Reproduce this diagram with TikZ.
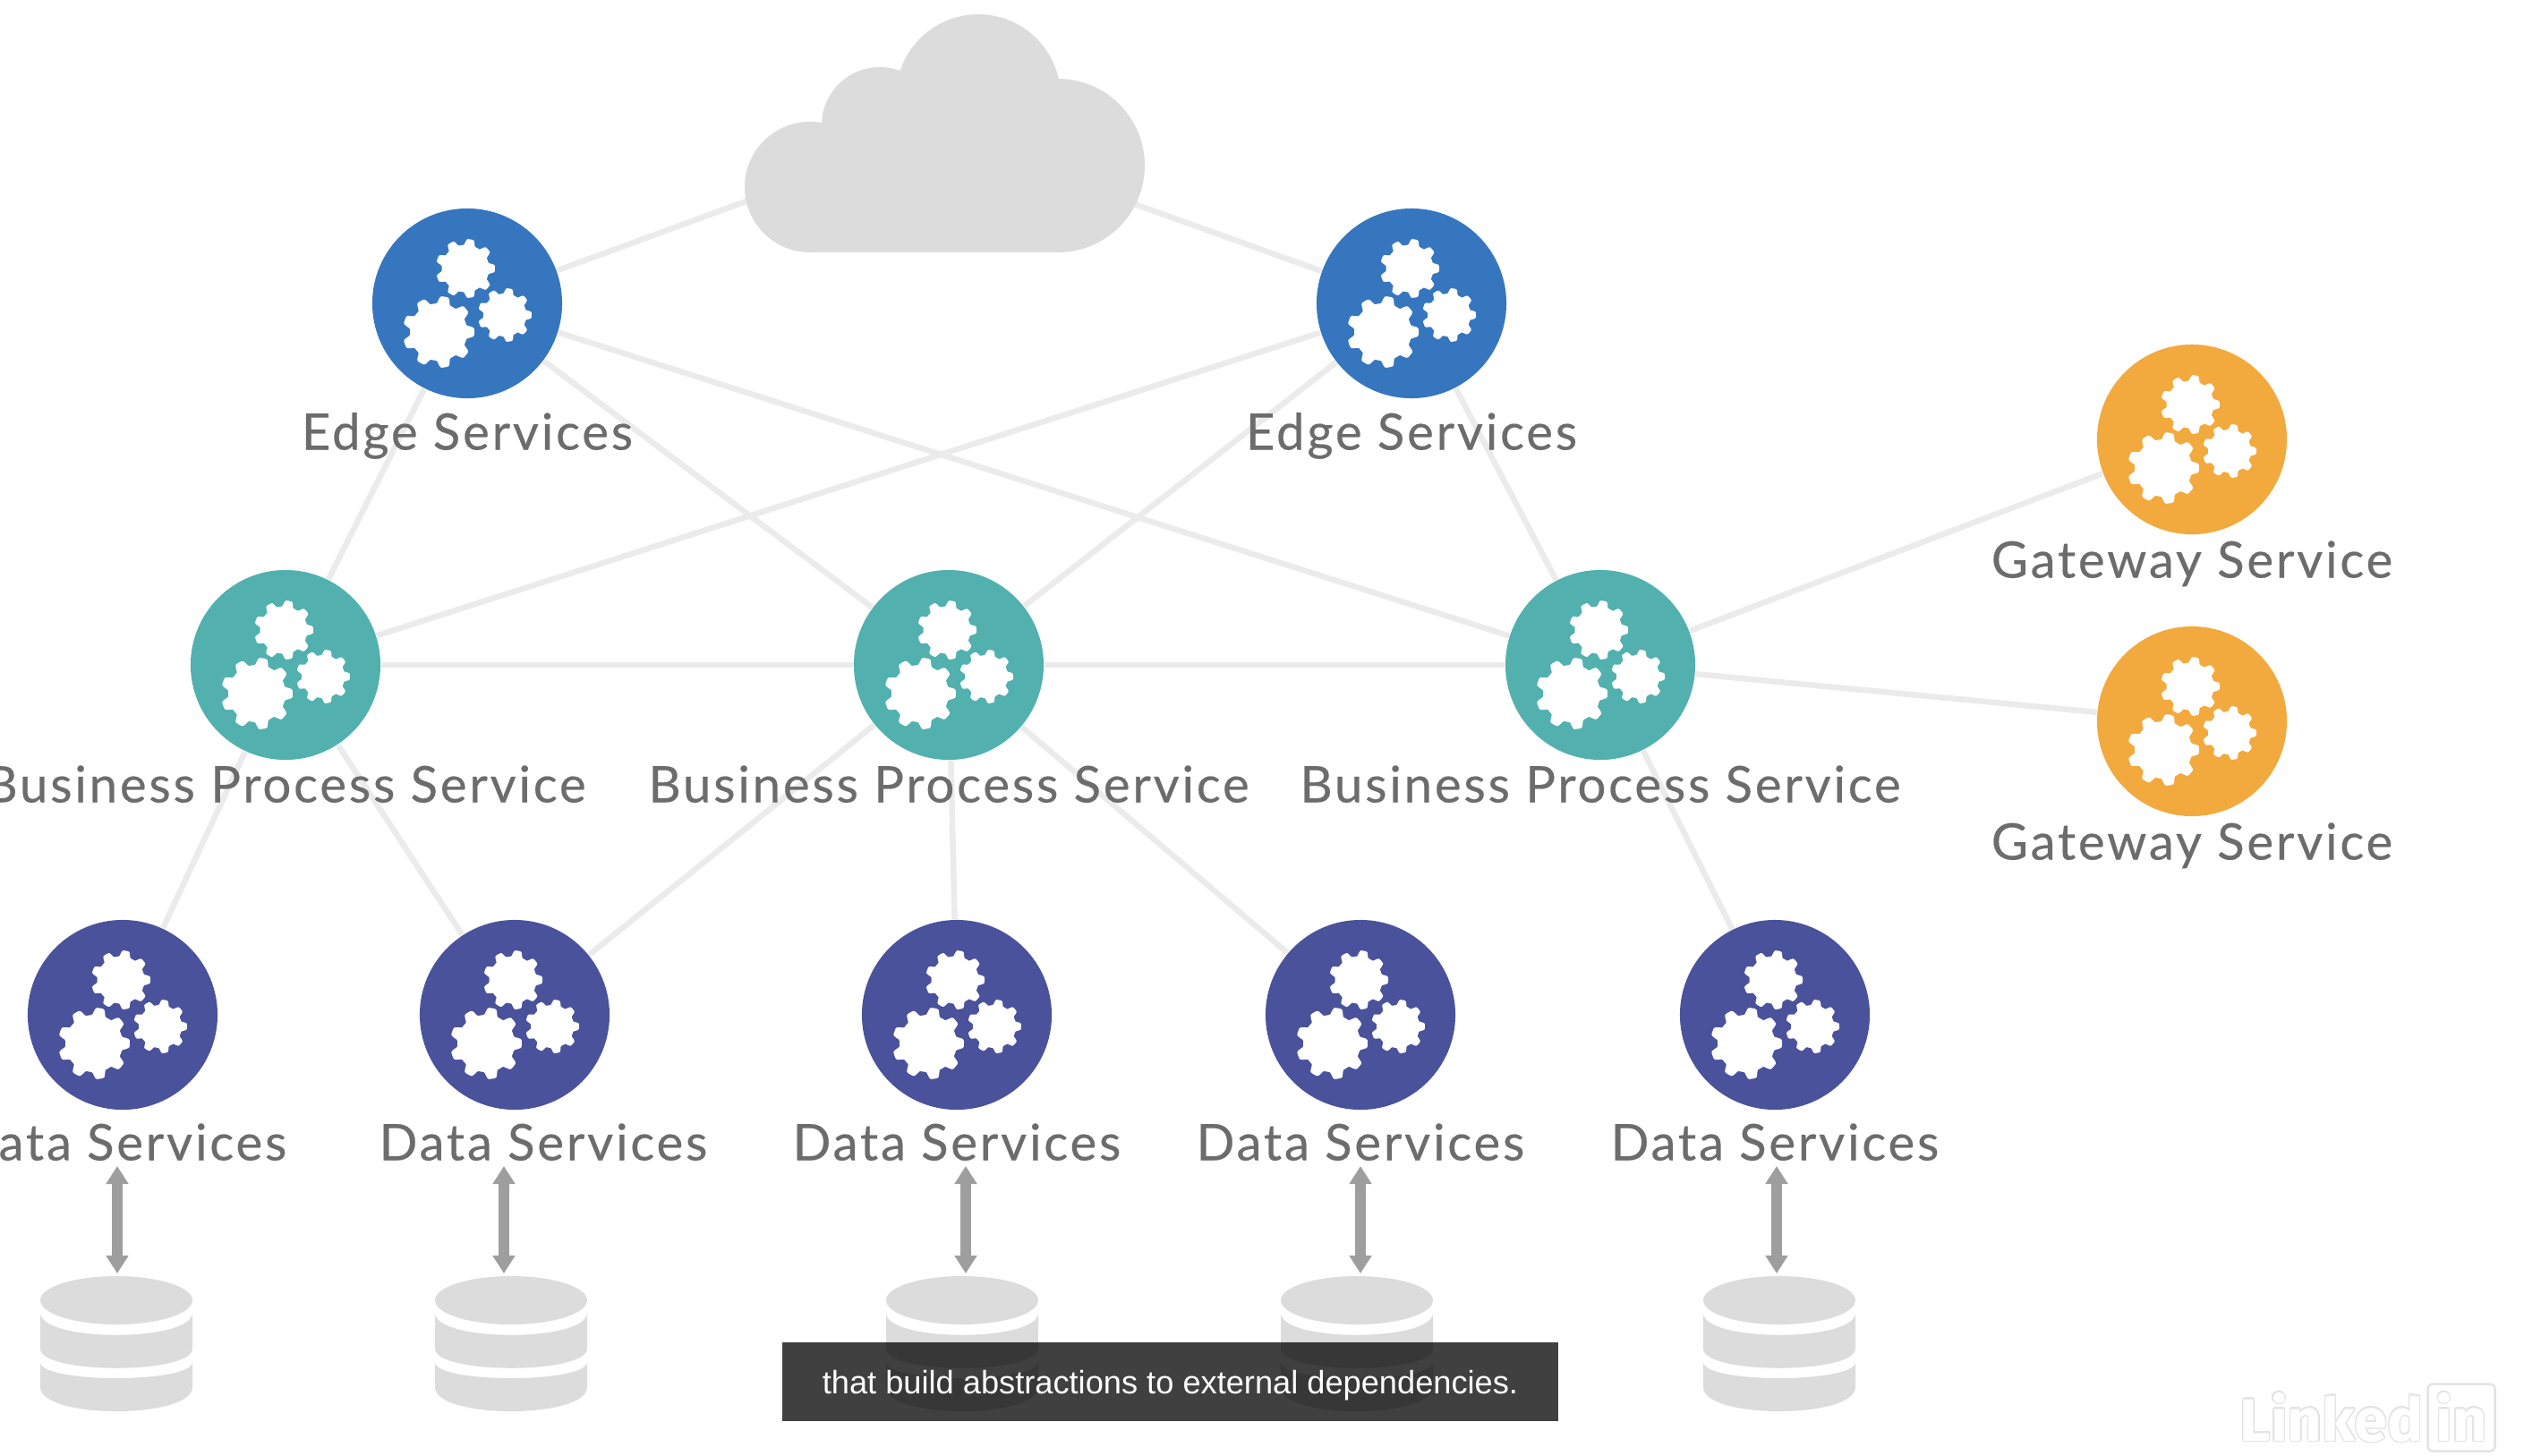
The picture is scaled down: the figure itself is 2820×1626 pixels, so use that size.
\documentclass[tikz,border=0pt]{standalone}
\usepackage{fontspec}
\usepackage[copies]{contour}
\usepackage{tikz}
\usetikzlibrary{positioning, arrows.meta, backgrounds}

\newfontfamily\labelfont[LetterSpace=5, FakeBold=0.35]{Lato}
\newfontfamily\captionfont{Liberation Sans}
\newfontfamily\logofont{Fira Sans}

\definecolor{edgeblue}{HTML}{3676BE}
\definecolor{processteal}{HTML}{52B1AE}
\definecolor{gatewayorange}{HTML}{F2A93E}
\definecolor{dataindigo}{HTML}{4A529C}
\definecolor{cloudgray}{HTML}{DCDCDC}
\definecolor{linkgray}{HTML}{EBEBEB}
\definecolor{arrowgray}{HTML}{9E9E9E}
\definecolor{textgray}{HTML}{6C6C6C}
\definecolor{logogray}{HTML}{E4E4E4}

\newcommand{\cogwheel}[3]{
    \fill[white] plot[domain=0:360, samples=145, variable=\t]
        ({#1+#3*(0.9+0.1*max(-1,min(1,2*cos(9*\t))))*cos(\t)},
         {#2+#3*(0.9+0.1*max(-1,min(1,2*cos(9*\t))))*sin(\t)}) -- cycle;
}

\tikzset{
    pics/gears/.style={code={
        \cogwheel{-32}{32}{40}
        \cogwheel{-2}{-39}{33}
        \cogwheel{42}{13}{30}
    }},
    pics/database/.style={code={
        \fill[cloudgray] (0,0) ellipse[x radius=85, y radius=27];
        \fill[cloudgray] (-85,14) .. controls (-85,47) and (85,47) .. (85,14)
            -- (85,54) .. controls (85,83) and (-85,83) .. (-85,54) -- cycle;
        \fill[cloudgray] (-85,69) .. controls (-85,93) and (85,93) .. (85,69)
            -- (85,97) .. controls (85,133) and (-85,133) .. (-85,97) -- cycle;
    }},
}

\begin{document}
\begin{tikzpicture}[
    x=0.01cm, y=-0.01cm,
    service/.style={circle, minimum size=2.12cm, inner sep=0pt},
    edgenode/.style={service, fill=edgeblue},
    processnode/.style={service, fill=processteal},
    gatewaynode/.style={service, fill=gatewayorange},
    datanode/.style={service, fill=dataindigo},
    caption/.style={font=\labelfont\fontsize{16}{18}\selectfont, text=textgray, inner sep=0pt,
        text height=0.4cm, text depth=0.12cm},
    link/.style={draw=linkgray, line width=0.065cm},
    dbarrow/.style={draw=arrowgray, line width=0.12cm,
        {Triangle[length=0.2cm, width=0.24cm]}-{Triangle[length=0.2cm, width=0.24cm]}},
    subtitle/.style={fill=black, fill opacity=0.75, text opacity=1, text=white, text depth=0pt,
        font=\captionfont\fontsize{10.3}{12}\selectfont, minimum width=8.67cm, minimum height=0.88cm},
]
    \useasboundingbox (0,0) rectangle (2820,1626);

    \node[edgenode] (edge1) at (522,339) {};
    \node[edgenode] (edge2) at (1577,339) {};

    \node[processnode] (process1) at (319,743) {};
    \node[processnode] (process2) at (1060,743) {};
    \node[processnode] (process3) at (1788,743) {};

    \node[gatewaynode] (gateway1) at (2449,491) {};
    \node[gatewaynode] (gateway2) at (2449,806) {};

    \node[datanode] (data1) at (137,1134) {};
    \node[datanode] (data2) at (575,1134) {};
    \node[datanode] (data3) at (1069,1134) {};
    \node[datanode] (data4) at (1520,1134) {};
    \node[datanode] (data5) at (1983,1134) {};

    \foreach \svc in {edge1, edge2, process1, process2, process3, gateway1, gateway2, data1, data2, data3, data4, data5}
        \pic at (\svc) {gears};

    \node[caption, below=0.16cm of edge1] (edge1 label) {Edge Services};
    \node[caption, below=0.16cm of edge2] (edge2 label) {Edge Services};
    \node[caption, below=0.06cm of process1] (process1 label) {Business Process Service};
    \node[caption, below=0.06cm of process2] (process2 label) {Business Process Service};
    \node[caption, below=0.06cm of process3] (process3 label) {Business Process Service};
    \node[caption, below=0.07cm of gateway1] (gateway1 label) {Gateway Service};
    \node[caption, below=0.07cm of gateway2] (gateway2 label) {Gateway Service};
    \node[caption, below=0.15cm of data1] (data1 label) {Data Services};
    \node[caption, below=0.15cm of data2, xshift=0.32cm] (data2 label) {Data Services};
    \node[caption, below=0.15cm of data3] (data3 label) {Data Services};
    \node[caption, below=0.15cm of data4] (data4 label) {Data Services};
    \node[caption, below=0.15cm of data5] (data5 label) {Data Services};

    % cloud
    \coordinate (cloud west) at (880,208);
    \coordinate (cloud east) at (1220,211);
    \fill[cloudgray] (1182,185) circle[radius=97];
    \fill[cloudgray] (1093,108) circle[radius=92];
    \fill[cloudgray] (983,140) circle[radius=65];
    \fill[cloudgray] (905,209) circle[radius=73];
    \fill[cloudgray] (905,160) rectangle (1182,282);

    \begin{scope}[on background layer]
        \draw[link] (cloud west) -- (edge1);
        \draw[link] (cloud east) -- (edge2);
        \draw[link] (edge1) -- (process1);
        \draw[link] (edge1) -- (process2);
        \draw[link] (edge1) -- (process3);
        \draw[link] (edge2) -- (process1);
        \draw[link] (edge2) -- (process2);
        \draw[link] (edge2) -- (process3);
        \draw[link] (process1) -- (process2);
        \draw[link] (process2) -- (process3);
        \draw[link] (process3) -- (gateway1);
        \draw[link] (process3) -- (gateway2);
        \draw[link] (process1) -- (data1);
        \draw[link] (process1) -- (data2);
        \draw[link] (process2) -- (data2);
        \draw[link] (process2) -- (data3);
        \draw[link] (process2) -- (data4);
        \draw[link] (process3) -- (data5);
    \end{scope}

    % databases
    \coordinate (db1) at (130,1453);
    \coordinate (db2) at (571,1453);
    \coordinate (db3) at (1075,1453);
    \coordinate (db4) at (1516,1453);
    \coordinate (db5) at (1988,1453);
    \pic at (db1) {database};
    \pic at (db2) {database};
    \pic at (db3) {database};
    \pic at (db4) {database};
    \pic at (db5) {database};

    \coordinate (up1) at (131,1303);
    \coordinate (down1) at (131,1423);
    \coordinate (up2) at (563,1303);
    \coordinate (down2) at (563,1423);
    \coordinate (up3) at (1079,1303);
    \coordinate (down3) at (1079,1423);
    \coordinate (up4) at (1520,1303);
    \coordinate (down4) at (1520,1423);
    \coordinate (up5) at (1985,1303);
    \coordinate (down5) at (1985,1423);
    \draw[dbarrow] (up1) -- (down1);
    \draw[dbarrow] (up2) -- (down2);
    \draw[dbarrow] (up3) -- (down3);
    \draw[dbarrow] (up4) -- (down4);
    \draw[dbarrow] (up5) -- (down5);

    \node[subtitle] (subtitle) at (1307.5,1544) {that build abstractions to external dependencies.};

    % logo
    \contourlength{0.35pt}
    \contournumber{24}
    \node[font=\logofont\bfseries\fontsize{19}{22}\selectfont, text=white, inner sep=0pt, anchor=base west] (linked) at (2502,1610) {\contour{logogray}{Linked}};
    \node[draw=logogray, line width=0.025cm, rounded corners=0.05cm, minimum width=0.75cm, minimum height=0.75cm, inner sep=0pt] (logobox) at (2750,1584) {};
    \node[font=\logofont\bfseries\fontsize{19}{22}\selectfont, text=white, inner sep=0pt, anchor=base] (logoin) at (2750,1610) {\contour{logogray}{in}};
\end{tikzpicture}
\end{document}
